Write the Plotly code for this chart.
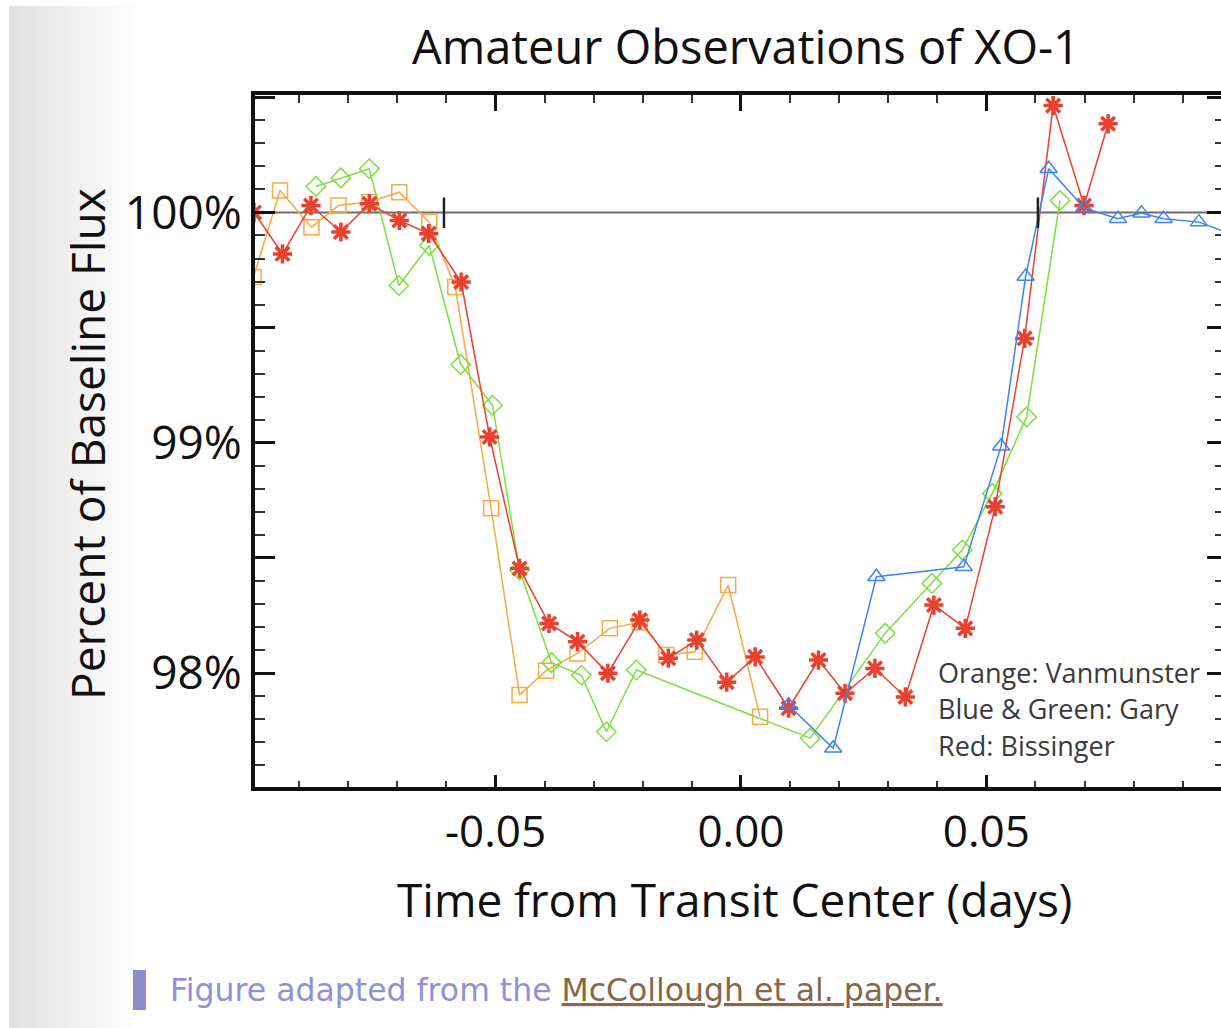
import plotly.graph_objects as go

# ---- data: time from transit centre (days) and percent of baseline flux ----
orange_t = [-0.0993, -0.0939, -0.0875, -0.0820, -0.0757, -0.0696, -0.0635, -0.0582, -0.0509,
            -0.0451, -0.0397, -0.0333, -0.0267, -0.0206, -0.0152, -0.0094, -0.0026, 0.0039]
orange_f = [99.72, 100.095, 99.936, 100.03, 100.045, 100.088, 99.958, 99.676, 98.715,
            97.905, 98.01, 98.085, 98.194, 98.22, 98.078, 98.092, 98.382, 97.81]

red_t = [-0.0992, -0.0934, -0.0876, -0.0815, -0.0757, -0.0696, -0.0636, -0.0570, -0.0512,
         -0.0451, -0.0391, -0.0333, -0.0271, -0.0206, -0.0148, -0.0090, -0.0029, 0.0029,
         0.0097, 0.0158, 0.0212, 0.0273, 0.0335, 0.0393, 0.0457, 0.0518, 0.0578, 0.0636,
         0.0699, 0.0748]
red_f = [100.0, 99.82, 100.03, 99.915, 100.038, 99.965, 99.908, 99.698, 99.025,
         98.454, 98.215, 98.136, 97.999, 98.23, 98.064, 98.143, 97.96, 98.07,
         97.847, 98.056, 97.912, 98.02, 97.896, 98.295, 98.194, 98.722, 99.453, 100.464,
         100.03, 100.385]

green_t = [-0.0866, -0.0815, -0.0757, -0.0697, -0.0635, -0.0571, -0.0506, -0.0451, -0.0386,
           -0.0325, -0.0274, -0.0213, 0.0141, 0.0294, 0.0389, 0.0451, 0.0512, 0.0582, 0.0650]
green_f = [100.113, 100.15, 100.19, 99.683, 99.857, 99.34, 99.163, 98.447, 98.045,
           97.99, 97.745, 98.013, 97.717, 98.173, 98.389, 98.534, 98.78, 99.112, 100.052]

blue_t = [0.0097, 0.0188, 0.0276, 0.0454, 0.0530, 0.0580, 0.0627, 0.0699, 0.0768,
          0.0816, 0.0861, 0.0933, 0.1000]
blue_f = [97.86, 97.673, 98.418, 98.461, 98.985, 99.722, 100.19, 100.02, 99.973,
          99.997, 99.973, 99.958, 99.905]

# transit contact markers and baseline level
contact_t = [-0.0605, 0.0605]
baseline = 100.0

x_ticks = [-0.05, 0.0, 0.05]
x_ticktext = ["-0.05", "0.00", "0.05"]
y_ticks = [97.5, 98.0, 98.5, 99.0, 99.5, 100.0, 100.5]
y_ticktext = ["", "98%", "", "99%", "", "100%", ""]

legend_lines = ["Orange: Vanmunster", "Blue & Green: Gary", "Red: Bissinger"]

# ---- page geometry (pixels) ----
W, H = 1221, 1028
PL, PR, PT, PB = 255, 1221, 95, 787
X_RANGE = [-0.0990, 0.0978]
Y_RANGE = [97.505, 100.51]


def px(xp):
    return (xp - PL) / (PR - PL)


def py(yp):
    return (PB - yp) / (PB - PT)


FONT = "Open Sans, Noto Sans, sans-serif"

fig = go.Figure()


def series(t, f, color, symbol, size, mlw, name):
    fig.add_trace(go.Scatter(
        x=t, y=f, mode="lines+markers", name=name,
        line=dict(color=color, width=1.5),
        marker=dict(symbol=symbol, size=size, color=color,
                    line=dict(color=color, width=mlw)),
        showlegend=False,
    ))


series(orange_t, orange_f, "#f6aa48", "square-open", 15, 1.5, "Vanmunster")
series(green_t, green_f, "#7ddf3f", "diamond-open", 15, 1.5, "Gary (green)")
series(red_t, red_f, "#e8412f", "asterisk-open", 16, 3.5, "Bissinger")
series(blue_t, blue_f, "#3f84ee", "triangle-up-open", 15, 1.5, "Gary (blue)")

# dummy trace so the mirrored top/right axes are drawn
fig.add_trace(go.Scatter(x=[None], y=[None], xaxis="x2", yaxis="y2",
                         showlegend=False, hoverinfo="skip"))

shapes = []

# soft grey gradient strip down the left of the page
n_steps = 34
g0, g1 = 9, 142
for i in range(n_steps):
    x0 = g0 + (g1 - g0) * i / n_steps
    x1 = g0 + (g1 - g0) * (i + 1) / n_steps + 0.6
    v = int(round(224 + (255 - 224) * (i / (n_steps - 1)) ** 0.9))
    shapes.append(dict(type="rect", xref="paper", yref="paper",
                       x0=px(x0), x1=px(x1), y0=py(H + 5), y1=py(6),
                       fillcolor=f"rgb({v},{v},{v})", line=dict(width=0), layer="below"))

# baseline flux level
shapes.append(dict(type="line", xref="paper", yref="y", x0=0, x1=1, y0=baseline, y1=baseline,
                   line=dict(color="#6e6e6e", width=2), layer="below"))
# ingress / egress ticks on the baseline
for t in contact_t:
    shapes.append(dict(type="line", xref="x", yref="y", x0=t, x1=t,
                       y0=baseline - 0.068, y1=baseline + 0.065,
                       line=dict(color="#222222", width=2.5)))

# caption bar
shapes.append(dict(type="rect", xref="paper", yref="paper",
                   x0=px(133), x1=px(146), y0=py(1010), y1=py(970),
                   fillcolor="#8e8ecb", line=dict(width=0)))

annotations = []
annotations.append(dict(text="Amateur Observations of XO-1", xref="paper", yref="paper",
                        x=px(746), y=py(46), xanchor="center", yanchor="middle",
                        showarrow=False, font=dict(family=FONT, size=47, color="#111111")))
annotations.append(dict(text="Time from Transit Center (days)", xref="paper", yref="paper",
                        x=px(734), y=py(899), xanchor="center", yanchor="middle",
                        showarrow=False, font=dict(family=FONT, size=46, color="#111111")))
annotations.append(dict(text="Percent of Baseline Flux", xref="paper", yref="paper",
                        x=px(87), y=py(444), xanchor="center", yanchor="middle", textangle=-90,
                        showarrow=False, font=dict(family=FONT, size=46, color="#111111")))
for i, line in enumerate(legend_lines):
    annotations.append(dict(text=line, xref="paper", yref="paper",
                            x=px(936), y=py(672 + 36.5 * i), xanchor="left", yanchor="middle",
                            showarrow=False, font=dict(family=FONT, size=27, color="#3a3a3a")))
annotations.append(dict(
    text=("<span style='color:#9191d4'>Figure adapted from the </span>"
          "<span style='color:#86684a'><u>McCollough et al. paper.</u></span>"),
    xref="paper", yref="paper", x=px(168), y=py(990), xanchor="left", yanchor="middle",
    showarrow=False, font=dict(family="DejaVu Sans, Verdana, sans-serif", size=31.5)))

axis_common = dict(showgrid=False, zeroline=False, ticks="inside", tickcolor="#111111")

fig.update_layout(
    width=W, height=H,
    margin=dict(l=PL, r=W - PR, t=PT, b=H - PB, pad=0),
    paper_bgcolor="white", plot_bgcolor="white",
    shapes=shapes, annotations=annotations,
    xaxis=dict(**axis_common, range=X_RANGE, tickvals=x_ticks, ticktext=x_ticktext,
               ticklen=12, tickwidth=2.5, showline=True, linecolor="#111111", linewidth=4,
               minor=dict(dtick=0.01, tick0=0, ticks="inside", ticklen=6, tickwidth=2,
                          tickcolor="#333333"),
               tickfont=dict(family=FONT, size=44, color="#111111"), ticklabelstandoff=3),
    xaxis2=dict(**axis_common, range=X_RANGE, overlaying="x", side="top", anchor="y",
                tickvals=x_ticks, showticklabels=False, ticklen=16, tickwidth=2.5,
                showline=True, linecolor="#111111", linewidth=4,
                minor=dict(dtick=0.01, tick0=0, ticks="inside", ticklen=8, tickwidth=2,
                           tickcolor="#333333")),
    yaxis=dict(**axis_common, range=Y_RANGE, tickvals=y_ticks, ticktext=y_ticktext,
               ticklen=20, tickwidth=2.5, showline=True, linecolor="#111111", linewidth=4,
               minor=dict(dtick=0.1, tick0=0, ticks="inside", ticklen=10, tickwidth=2,
                          tickcolor="#333333"),
               tickfont=dict(family=FONT, size=46, color="#111111"), ticklabelstandoff=0),
    yaxis2=dict(**axis_common, range=Y_RANGE, overlaying="y", side="right", anchor="x",
                tickvals=y_ticks, showticklabels=False, ticklen=14, tickwidth=2.5,
                showline=False,
                minor=dict(dtick=0.1, tick0=0, ticks="inside", ticklen=6, tickwidth=2,
                           tickcolor="#333333")),
    showlegend=False,
)

fig.write_html("out.html")
